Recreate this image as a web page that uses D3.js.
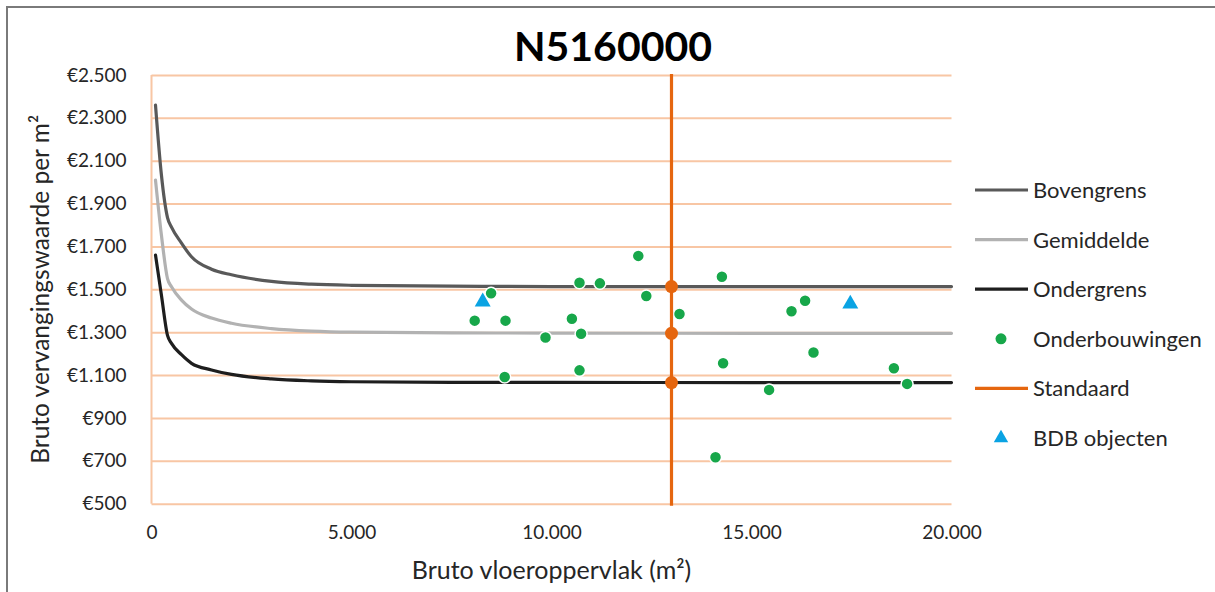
<!DOCTYPE html>
<html>
<head>
<meta charset="utf-8">
<script src="https://cdn.jsdelivr.net/npm/d3@7"></script>
<style>
  html, body { margin: 0; padding: 0; background: #fff; }
  svg { display: block; font-family: Lato, "Open Sans", sans-serif; }
</style>
</head>
<body>
<svg id="chart" width="1215" height="592"></svg>
<script>
// Floor area (m²) sample points for the reference curves
const areaSteps = [100, 250, 400, 500, 750, 1000, 1500, 2000, 3000, 4000, 5000, 7500, 10000, 15000, 20000];
const bovengrens = [2360, 2030, 1835, 1790, 1716, 1652, 1594, 1568, 1537, 1524, 1519, 1515, 1513, 1513, 1513];
const gemiddelde = [2010, 1750, 1550, 1512, 1450, 1408, 1366, 1342, 1317, 1305, 1300, 1297, 1296, 1295, 1295];
const ondergrens = [1660, 1470, 1285, 1248, 1195, 1155, 1124, 1103, 1082, 1073, 1069, 1066, 1066, 1065, 1065];

// Supporting cases
const onderbouwingX = [8080, 8490, 8850, 8830, 9850, 10510, 10700, 10700, 10740, 11210, 12170,
                       12370, 13200, 14100, 14260, 14290, 15440, 16000, 16340, 16550, 18560, 18890];
const onderbouwingY = [1354, 1482, 1354, 1091, 1275, 1363, 1531, 1122, 1293, 1528, 1656,
                       1469, 1385, 717, 1559, 1155, 1031, 1398, 1447, 1205, 1132, 1059];

// BDB objects
const bdbX = [8280, 17470];
const bdbY = [1442, 1432];

// Standard object
const standaardX = 13000;
const standaardY = [1513, 1295, 1065];

const yTicks = [500, 700, 900, 1100, 1300, 1500, 1700, 1900, 2100, 2300, 2500];
const xTicks = [0, 5000, 10000, 15000, 20000];

const title = "N5160000";
const xTitle = "Bruto vloeroppervlak (m²)";
const yTitle = "Bruto vervangingswaarde per m²";

const colors = {
  bovengrens: "#595959",
  gemiddelde: "#B2B2B2",
  ondergrens: "#1E1E1E",
  onderbouwing: "#17A74A",
  standaard: "#E5660F",
  bdb: "#0AA3E3",
  grid: "#F8C6A4",
  text: "#262626"
};

const nl = d3.formatLocale({decimal: ",", thousands: ".", grouping: [3], currency: ["€", ""]});
const fmtEuro = nl.format("$,.0f");
const fmtNum = nl.format(",.0f");

const svg = d3.select("#chart");

// outer chart frame
svg.append("rect")
  .attr("x", 7).attr("y", 7)
  .attr("width", 1230).attr("height", 620)
  .attr("fill", "none").attr("stroke", "#7A7A7A").attr("stroke-width", 2);

const x = d3.scaleLinear().domain([0, 20000]).range([151.5, 951.5]);
const y = d3.scaleLinear().domain([500, 2500]).range([503.7, 75]);

// horizontal gridlines
const grid = svg.append("g").attr("transform", `translate(${x(0)},0)`)
  .call(d3.axisLeft(y).tickValues(yTicks).tickSize(-(x(20000) - x(0))).tickFormat(""));
grid.select(".domain").remove();
grid.selectAll("line").attr("stroke", colors.grid).attr("stroke-width", 2);

// left axis line
svg.append("line")
  .attr("x1", x(0)).attr("x2", x(0)).attr("y1", y(2500)).attr("y2", y(500))
  .attr("stroke", colors.grid).attr("stroke-width", 2);

// y tick labels
const yAxis = svg.append("g").attr("transform", `translate(${x(0)},0)`)
  .call(d3.axisLeft(y).tickValues(yTicks).tickSize(0).tickPadding(25).tickFormat(fmtEuro));
yAxis.select(".domain").remove();
yAxis.selectAll("text").attr("font-size", 19).attr("fill", colors.text).attr("font-family", "Lato");

// x tick labels
const xAxis = svg.append("g").attr("transform", `translate(0,${y(500)})`)
  .call(d3.axisBottom(x).tickValues(xTicks).tickSize(0).tickPadding(22).tickFormat(fmtNum));
xAxis.select(".domain").remove();
xAxis.selectAll("text").attr("font-size", 19).attr("fill", colors.text).attr("font-family", "Lato");

// title and axis titles
svg.append("text").attr("x", 613).attr("y", 61).attr("text-anchor", "middle")
  .attr("font-size", 41).attr("font-weight", 700).attr("fill", "#000").text(title);

svg.append("text").attr("x", (x(0) + x(20000)) / 2).attr("y", 579).attr("text-anchor", "middle")
  .attr("font-size", 25).attr("fill", colors.text).text(xTitle);

svg.append("text")
  .attr("transform", `translate(49,${(y(500) + y(2500)) / 2}) rotate(-90)`)
  .attr("text-anchor", "middle").attr("font-size", 24.5).attr("fill", colors.text).text(yTitle);

// reference curves
const line = d3.line().x(d => x(d[0])).y(d => y(d[1])).curve(d3.curveMonotoneX);
const curves = [
  {vals: bovengrens, color: colors.bovengrens},
  {vals: gemiddelde, color: colors.gemiddelde},
  {vals: ondergrens, color: colors.ondergrens}
];
curves.forEach(c => {
  svg.append("path")
    .datum(areaSteps.map((a, i) => [a, c.vals[i]]))
    .attr("d", line)
    .attr("fill", "none").attr("stroke", c.color).attr("stroke-width", 3.2)
    .attr("stroke-linecap", "round").attr("stroke-linejoin", "round");
});

// supporting cases
svg.append("g").selectAll("circle")
  .data(onderbouwingX.map((a, i) => [a, onderbouwingY[i]]))
  .join("circle")
  .attr("cx", d => x(d[0])).attr("cy", d => y(d[1])).attr("r", 6)
  .attr("fill", colors.onderbouwing).attr("stroke", "#fff").attr("stroke-width", 1.5);

// standard line with markers
svg.append("line")
  .attr("x1", x(standaardX)).attr("x2", x(standaardX))
  .attr("y1", y(2500) - 1).attr("y2", y(500) + 2)
  .attr("stroke", colors.standaard).attr("stroke-width", 3.2);
svg.append("g").selectAll("circle")
  .data(standaardY)
  .join("circle")
  .attr("cx", x(standaardX)).attr("cy", d => y(d)).attr("r", 6.5)
  .attr("fill", colors.standaard);

// BDB objects
const tri = d3.symbol().type(d3.symbolTriangle).size(110);
svg.append("g").selectAll("path")
  .data(bdbX.map((a, i) => [a, bdbY[i]]))
  .join("path")
  .attr("transform", d => `translate(${x(d[0])},${y(d[1])})`)
  .attr("d", tri).attr("fill", colors.bdb);

// legend
const legendItems = [
  {label: "Bovengrens", type: "line", color: colors.bovengrens},
  {label: "Gemiddelde", type: "line", color: colors.gemiddelde},
  {label: "Ondergrens", type: "line", color: colors.ondergrens},
  {label: "Onderbouwingen", type: "dot", color: colors.onderbouwing},
  {label: "Standaard", type: "line", color: colors.standaard},
  {label: "BDB objecten", type: "tri", color: colors.bdb}
];
const legend = svg.append("g");
legendItems.forEach((it, i) => {
  const ly = 190 + i * 49.6;
  const g = legend.append("g").attr("transform", `translate(0,${ly})`);
  if (it.type === "line") {
    g.append("line").attr("x1", 975).attr("x2", 1028).attr("y1", 0).attr("y2", 0)
      .attr("stroke", it.color).attr("stroke-width", 3.2);
  } else if (it.type === "dot") {
    g.append("circle").attr("cx", 1001).attr("cy", 0).attr("r", 5.5).attr("fill", it.color);
  } else {
    g.append("path").attr("transform", "translate(1001,0)")
      .attr("d", d3.symbol().type(d3.symbolTriangle).size(90)).attr("fill", it.color);
  }
  g.append("text").attr("x", 1033).attr("y", 0).attr("dy", "0.36em")
    .attr("font-size", 22).attr("fill", colors.text).text(it.label);
});
</script>
</body>
</html>
